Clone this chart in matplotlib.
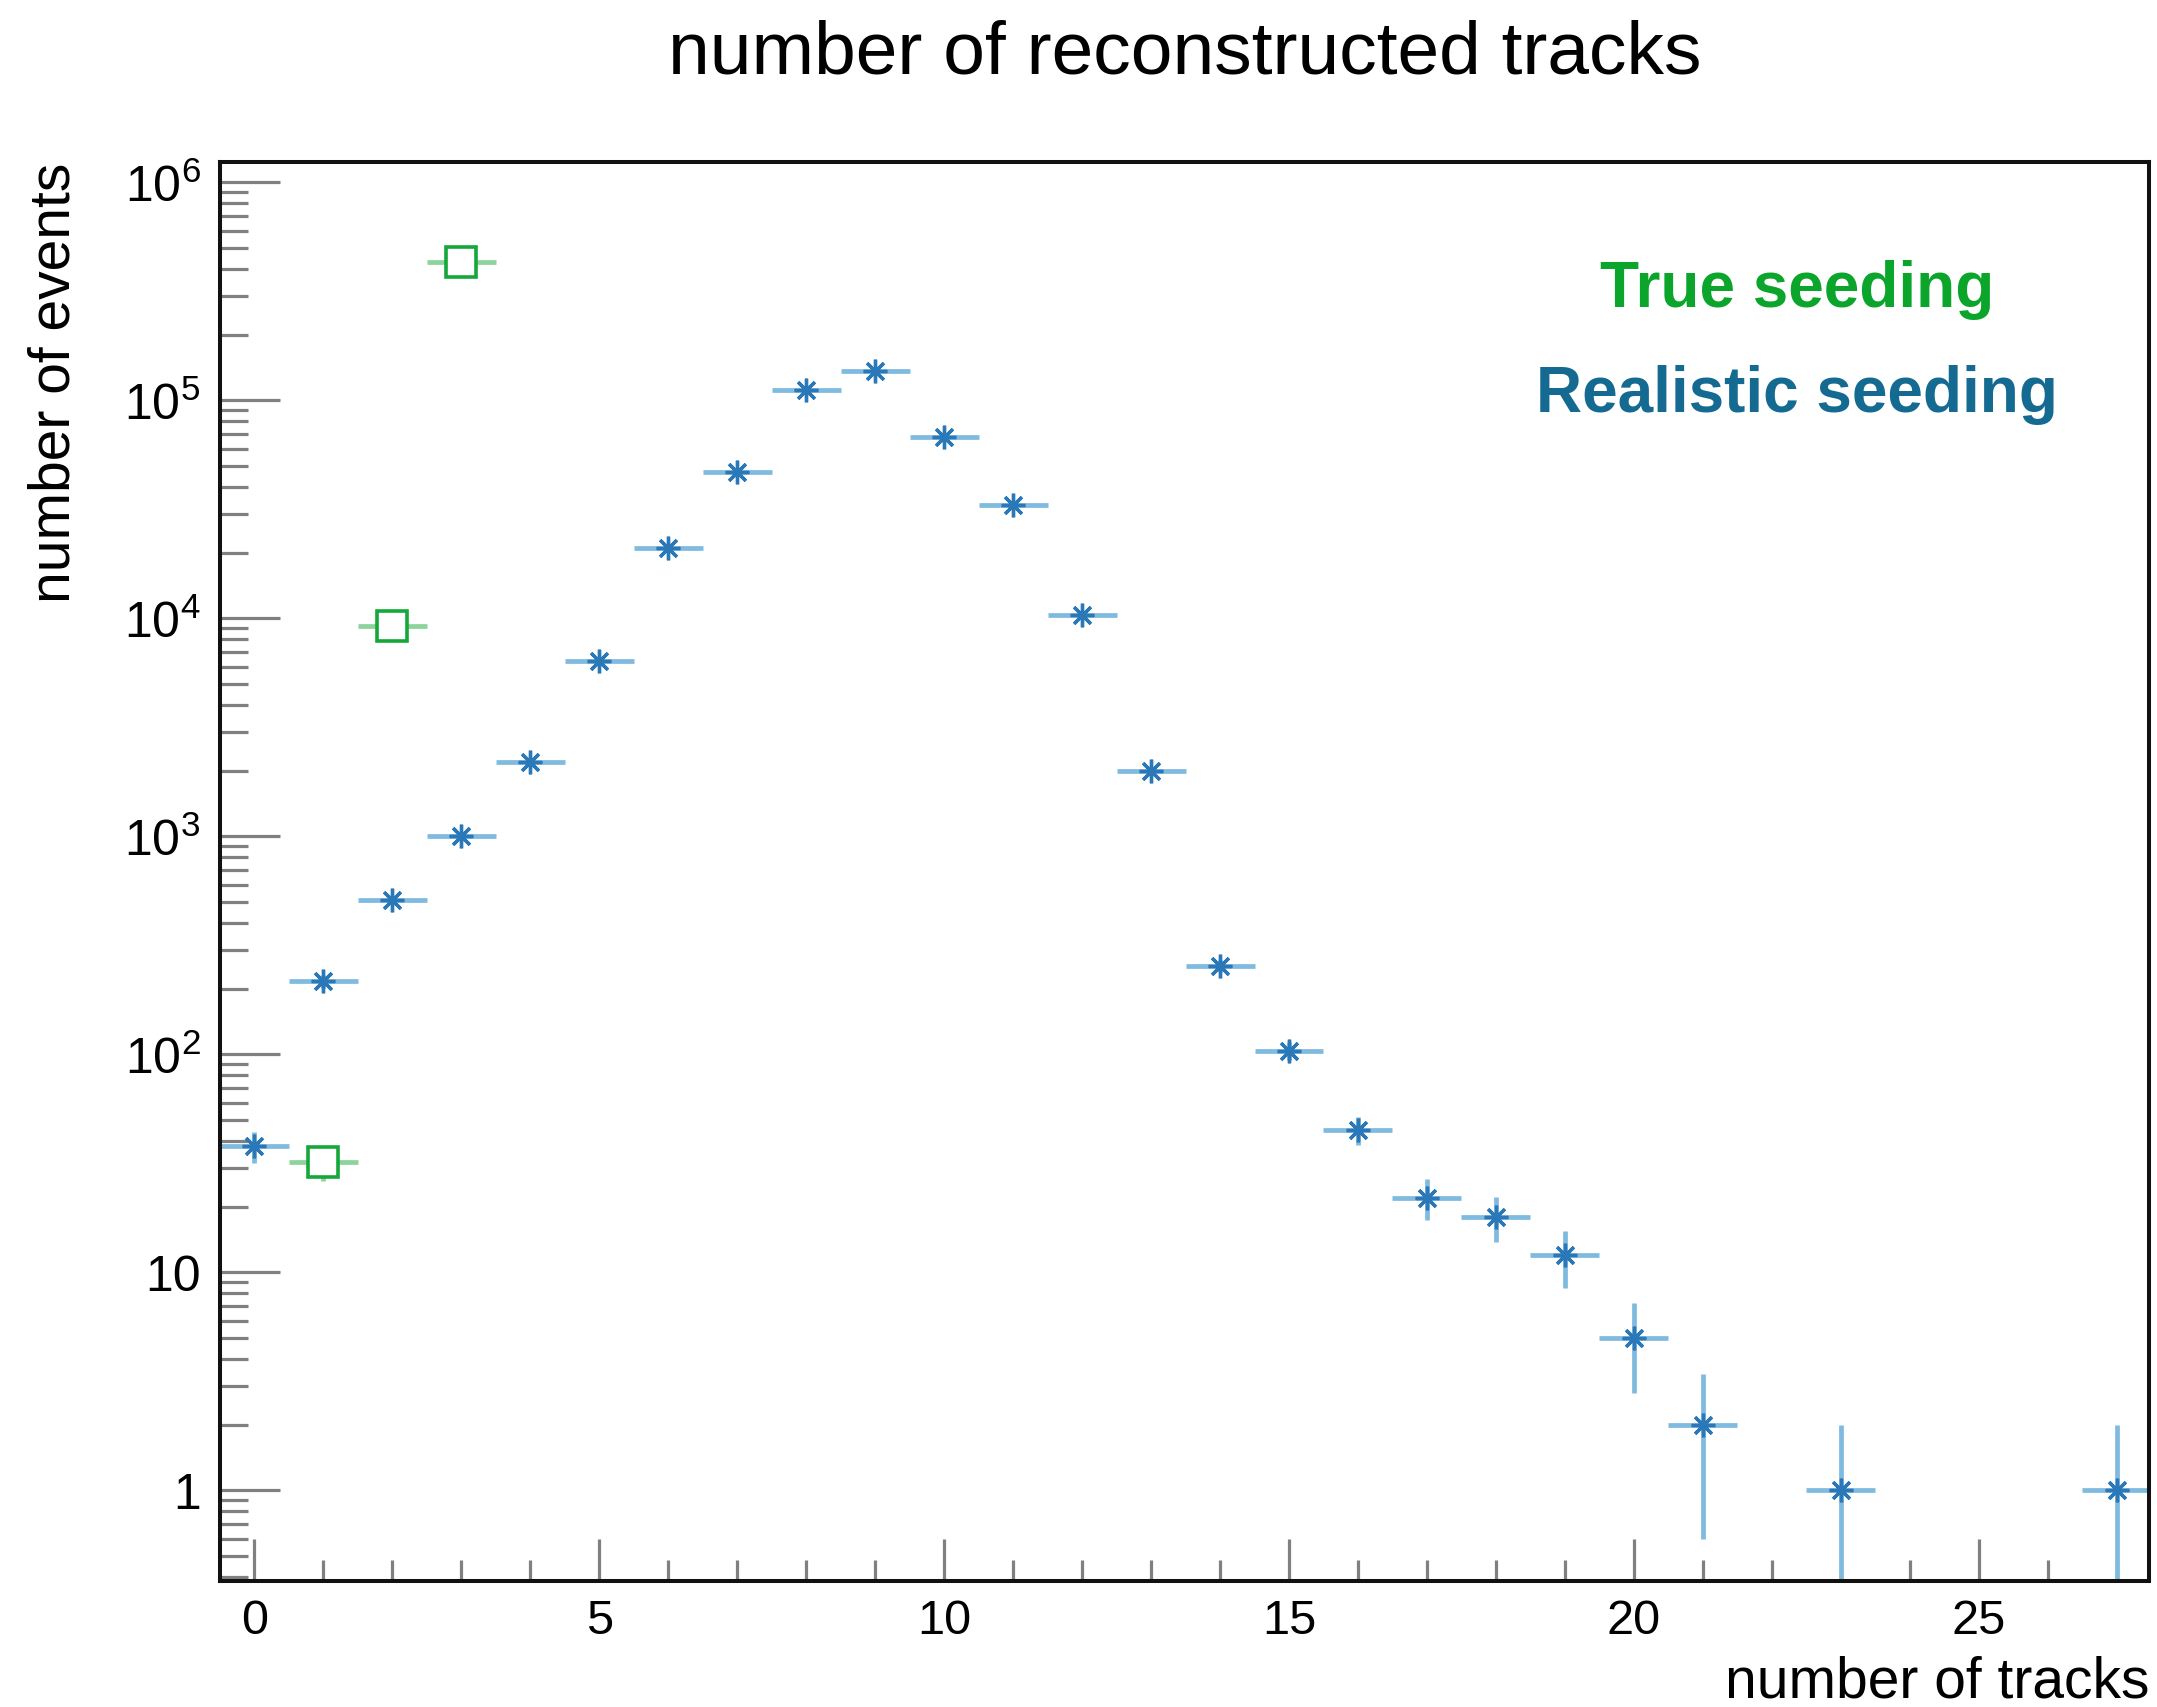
"""Number of reconstructed tracks per event: true vs realistic seeding (log y)."""
import matplotlib
matplotlib.use("Agg")
import matplotlib.pyplot as plt
from matplotlib.ticker import FixedLocator, FuncFormatter, LogLocator, MultipleLocator, NullFormatter

plt.rcParams["font.family"] = ["Liberation Sans", "DejaVu Sans"]
plt.rcParams["mathtext.default"] = "regular"

# realistic seeding: non-empty bins only
real_x = [0, 1, 2, 3, 4, 5, 6, 7, 8, 9, 10, 11, 12, 13, 14, 15, 16, 17, 18, 19, 20, 21, 23, 27]
real_n = [38, 216, 509, 1000, 2200, 6400, 21000, 47000, 112000, 137000, 68000, 33000,
          10300, 2000, 255, 104, 45, 22, 18, 12, 5, 2, 1, 1]
real_err = [6.2, 14.7, 22.6, 31.6, 46.9, 80, 145, 217, 335, 370, 261, 182,
            101, 44.7, 16, 10.2, 6.7, 4.7, 4.2, 3.5, 2.2, 1.4, 1.0, 1.0]

# true seeding
true_x = [1, 2, 3]
true_n = [32, 9200, 430000]
true_err = [5.7, 96, 656]

BLUE_ERR, BLUE = "#7fbadf", "#2a78b8"
GREEN_ERR, GREEN = "#8cd39c", "#14a83a"
TICK = "#808080"

W, H = 2157, 1708
fig = plt.figure(figsize=(W / 100, H / 100), dpi=100)
ax = fig.add_axes([220 / W, 1 - 1582 / H, (2149 - 220) / W, (1582 - 163) / H])

ax.errorbar(real_x, real_n, yerr=real_err, xerr=0.5, fmt="none",
            ecolor=BLUE_ERR, elinewidth=3.4, capsize=0, zorder=2)
ax.plot(real_x, real_n, ls="none", marker=(8, 2, 0), ms=17, mew=2.4,
        color=BLUE, zorder=3)

ax.errorbar(true_x, true_n, yerr=true_err, xerr=0.5, fmt="none",
            ecolor=GREEN_ERR, elinewidth=3.4, capsize=0, zorder=2)
ax.plot(true_x, true_n, ls="none", marker="s", ms=22, mew=2.6,
        mec=GREEN, mfc="white", zorder=3)

ax.set_yscale("log")
ax.set_xlim(-0.5, 27.47)
ax.set_ylim(0.383, 1.24e6)

ax.yaxis.set_major_locator(FixedLocator([1, 10, 1e2, 1e3, 1e4, 1e5, 1e6]))
ax.yaxis.set_major_formatter(FuncFormatter(
    lambda v, p: {1: "1", 10: "10"}.get(int(round(v)), rf"$10^{{{len(str(int(round(v)))) - 1}}}$")))
ax.yaxis.set_minor_locator(LogLocator(base=10, subs=range(2, 10), numticks=30))
ax.yaxis.set_minor_formatter(NullFormatter())
ax.xaxis.set_major_locator(MultipleLocator(5))
ax.xaxis.set_minor_locator(MultipleLocator(1))

ax.tick_params(axis="both", which="both", direction="in", color=TICK, width=2.3,
               top=False, right=False)
ax.tick_params(axis="y", which="major", length=43, pad=14, labelsize=36)
ax.tick_params(axis="y", which="minor", length=20)
ax.tick_params(axis="x", which="major", length=30, pad=12, labelsize=35)
ax.tick_params(axis="x", which="minor", length=15)
for s in ax.spines.values():
    s.set_linewidth(2.9)
    s.set_color("#111111")

ax.set_xlabel("number of tracks", fontsize=41, loc="right")
ax.xaxis.set_label_coords(1.0, -0.052)
ax.set_ylabel("number of events", fontsize=41, loc="top")
ax.yaxis.set_label_coords(-0.072, 1.0)

fig.text((220 + 2149) / 2 / W, 1 - 73 / H, "number of reconstructed tracks",
         fontsize=54, ha="center", va="baseline")

ax.text(1797 / W, 1 - 307 / H, "True seeding", transform=fig.transFigure,
        fontsize=46, fontweight="bold", color="#0ba52c", ha="center", va="baseline")
ax.text(1797 / W, 1 - 412 / H, "Realistic seeding", transform=fig.transFigure,
        fontsize=46, fontweight="bold", color="#146a90", ha="center", va="baseline")

fig.savefig("out.png", dpi=100)
